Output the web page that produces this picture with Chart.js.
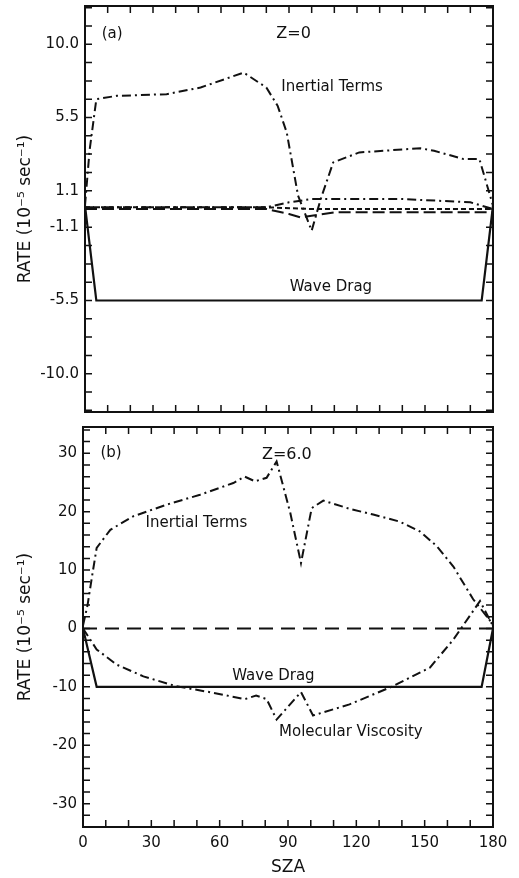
<!DOCTYPE html>
<html>
<head>
<meta charset="utf-8">
<script src="https://cdn.jsdelivr.net/npm/chart.js@4"></script>
<style>
  body { margin: 0; background: #fff; }
  .panel { position: absolute; left: 0; width: 519px; }
  #panelA { top: 0; height: 418px; }
  #panelB { top: 418px; height: 460px; }
</style>
</head>
<body>
<div class="panel" id="panelA"><canvas id="chartA"></canvas></div>
<div class="panel" id="panelB"><canvas id="chartB"></canvas></div>
<script>
// ---- data ----
// (a) Z = 0
const szaInertialA = [0, 2, 5, 14, 36, 51, 70, 80, 85, 89, 94, 100, 104, 109.5, 121, 148, 154, 167, 174, 180];
const rateInertialA = [0.2, 3.5, 6.6, 6.8, 6.9, 7.3, 8.2, 7.3, 6.2, 4.6, 0.8, -1.3, 0.6, 2.8, 3.4, 3.65, 3.5, 3.0, 3.0, 0.2];
const szaWaveA = [0, 5, 175, 180];
const rateWaveA = [0.2, -5.5, -5.5, 0.2];
const szaViscA = [0, 80, 90, 100, 140, 170, 180];
const rateViscA = [0.1, 0.1, 0.4, 0.6, 0.6, 0.4, 0.0];
const szaDashA = [0, 80, 90, 95, 100, 110, 180];
const rateDashA = [0.0, 0.0, -0.3, -0.5, -0.4, -0.2, -0.2];
const szaShortA = [0, 80, 100, 180];
const rateShortA = [0.1, 0.1, 0.0, 0.0];
const yTickValuesA = [-9.9, -5.5, -1.1, 1.1, 5.5, 9.9];
const yTickLabelsA = ['-10.0', '-5.5', '-1.1', '1.1', '5.5', '10.0'];

// (b) Z = 6.0
const szaInertialB = [0, 2, 4, 6, 12, 22, 36.7, 51.4, 66, 71, 75.5, 80.6, 85, 91, 95.7, 100.4, 105.5, 117, 127.4, 139, 148, 155.3, 162.6, 171.3, 179.4, 180];
const rateInertialB = [0.5, 4, 9, 13.8, 16.9, 19.2, 21.2, 22.9, 24.9, 26.0, 25.2, 25.8, 28.6, 19.8, 11.2, 20.6, 21.9, 20.5, 19.5, 18.3, 16.6, 14.1, 10.6, 5.0, 1.0, 0.5];
const szaViscB = [0, 6, 14.8, 26.5, 41, 57, 71, 76, 80.6, 85, 95.7, 101, 117, 136, 152.3, 162.6, 174.3, 180];
const rateViscB = [0, -3.6, -6.2, -8.2, -9.9, -11.0, -12.1, -11.5, -12.1, -15.6, -10.9, -14.9, -13.0, -9.9, -6.7, -1.9, 4.7, 0.4];
const szaWaveB = [0, 6, 175, 180];
const rateWaveB = [0, -10, -10, 0];
const szaZeroB = [0, 180];
const rateZeroB = [0, 0];
const yTickValuesB = [-30, -20, -10, 0, 10, 20, 30];
const yTickLabelsB = ['-30', '-20', '-10', '0', '10', '20', '30'];

const xTickValues = [0, 30, 60, 90, 120, 150, 180];
const xTickLabels = ['0', '30', '60', '90', '120', '150', '180'];

function pts(xs, ys) {
    return xs.map((x, i) => ({ x: x, y: ys[i] }));
}

const DASHDOT = [9, 4, 2, 4];
const FONT = 'DejaVu Sans';

function series(xs, ys, dash, width) {
    return {
        data: pts(xs, ys),
        borderColor: '#111',
        borderWidth: width || 2,
        borderDash: dash || [],
        pointRadius: 0,
        tension: 0,
        fill: false
    };
}

// frame + inward tick marks on all four sides
const frameTicks = {
    id: 'frameTicks',
    afterDraw(chart, args, opts) {
        const { ctx, chartArea: a, scales } = chart;
        const len = 7;
        ctx.save();
        ctx.strokeStyle = '#111';
        ctx.lineWidth = 1.5;
        ctx.beginPath();
        for (let v = scales.x.min; v <= scales.x.max + 1e-6; v += opts.xStep) {
            const px = scales.x.getPixelForValue(v);
            ctx.moveTo(px, a.top); ctx.lineTo(px, a.top + len);
            ctx.moveTo(px, a.bottom); ctx.lineTo(px, a.bottom - len);
        }
        for (let k = Math.ceil(scales.y.min / opts.yStep); k * opts.yStep <= scales.y.max; k++) {
            const py = scales.y.getPixelForValue(k * opts.yStep);
            ctx.moveTo(a.left, py); ctx.lineTo(a.left + len, py);
            ctx.moveTo(a.right, py); ctx.lineTo(a.right - len, py);
        }
        ctx.stroke();
        ctx.lineWidth = 2;
        ctx.strokeRect(a.left, a.top, a.right - a.left, a.bottom - a.top);
        ctx.restore();
    }
};

// text labels placed in data coordinates
const notes = {
    id: 'notes',
    afterDraw(chart, args, opts) {
        const { ctx, scales } = chart;
        ctx.save();
        ctx.fillStyle = '#111';
        ctx.textAlign = 'center';
        ctx.textBaseline = 'middle';
        opts.items.forEach(n => {
            ctx.font = (n.size || 15) + 'px "' + FONT + '"';
            ctx.fillText(n.text, scales.x.getPixelForValue(n.x), scales.y.getPixelForValue(n.y));
        });
        ctx.restore();
    }
};

function makeChart(id, cfg) {
    return new Chart(document.getElementById(id), {
        type: 'line',
        data: { datasets: cfg.datasets },
        plugins: [frameTicks, notes],
        options: {
            responsive: true,
            maintainAspectRatio: false,
            animation: false,
            layout: { padding: cfg.padding },
            plugins: {
                legend: { display: false },
                tooltip: { enabled: false },
                frameTicks: { xStep: 10, yStep: cfg.yStep },
                notes: { items: cfg.notes }
            },
            scales: {
                x: {
                    type: 'linear',
                    min: 0,
                    max: 180,
                    display: cfg.showX,
                    grid: { display: false, drawTicks: false },
                    border: { display: false },
                    afterBuildTicks: s => { s.ticks = xTickValues.map(v => ({ value: v })); },
                    afterFit: s => {
                        s.height = cfg.showX ? 51 : 0;
                        s.paddingLeft = 0;
                        s.paddingRight = 0;
                    },
                    ticks: {
                        padding: 7,
                        color: '#111',
                        font: { family: FONT, size: 15 },
                        maxRotation: 0,
                        callback: v => xTickLabels[xTickValues.indexOf(v)]
                    },
                    title: {
                        display: true,
                        text: 'SZA',
                        color: '#111',
                        padding: 0,
                        font: { family: FONT, size: 17 }
                    }
                },
                y: {
                    type: 'linear',
                    min: cfg.yMin,
                    max: cfg.yMax,
                    grid: { display: false, drawTicks: false },
                    border: { display: false },
                    afterBuildTicks: s => { s.ticks = cfg.yTickValues.map(v => ({ value: v })); },
                    afterFit: s => {
                        s.width = cfg.yWidth;
                        s.paddingTop = 0;
                        s.paddingBottom = 0;
                    },
                    ticks: {
                        padding: 6,
                        color: '#111',
                        font: { family: FONT, size: 15 },
                        callback: v => cfg.yTickLabels[cfg.yTickValues.indexOf(v)]
                    },
                    title: {
                        display: true,
                        text: 'RATE (10⁻⁵ sec⁻¹)',
                        color: '#111',
                        padding: 0,
                        font: { family: FONT, size: 17 }
                    }
                }
            }
        }
    });
}

makeChart('chartA', {
    datasets: [
        series(szaInertialA, rateInertialA, DASHDOT),
        series(szaWaveA, rateWaveA, [], 2.2),
        series(szaViscA, rateViscA, DASHDOT),
        series(szaDashA, rateDashA, [12, 5]),
        series(szaShortA, rateShortA, [5, 3])
    ],
    padding: { left: 15, right: 26, top: 6, bottom: 6 },
    showX: false,
    yMin: -12.2, yMax: 12.2, yStep: 1.1,
    yTickValues: yTickValuesA, yTickLabels: yTickLabelsA,
    yWidth: 70,
    notes: [
        { text: '(a)', x: 12, y: 10.5 },
        { text: 'Z=0', x: 92, y: 10.5, size: 16 },
        { text: 'Inertial Terms', x: 109, y: 7.3 },
        { text: 'Wave Drag', x: 108.5, y: -4.7 }
    ]
});

makeChart('chartB', {
    datasets: [
        series(szaInertialB, rateInertialB, DASHDOT),
        series(szaViscB, rateViscB, DASHDOT),
        series(szaWaveB, rateWaveB, [], 2.2),
        series(szaZeroB, rateZeroB, [14, 8])
    ],
    padding: { left: 15, right: 26, top: 9, bottom: 0 },
    showX: true,
    yMin: -34, yMax: 34.5, yStep: 2,
    yTickValues: yTickValuesB, yTickLabels: yTickLabelsB,
    yWidth: 68,
    notes: [
        { text: '(b)', x: 12.3, y: 30.1 },
        { text: 'Z=6.0', x: 89.5, y: 29.7, size: 16 },
        { text: 'Inertial Terms', x: 49.8, y: 18.1 },
        { text: 'Wave Drag', x: 83.6, y: -8.2 },
        { text: 'Molecular Viscosity', x: 117.6, y: -17.8 }
    ]
});
</script>
</body>
</html>
